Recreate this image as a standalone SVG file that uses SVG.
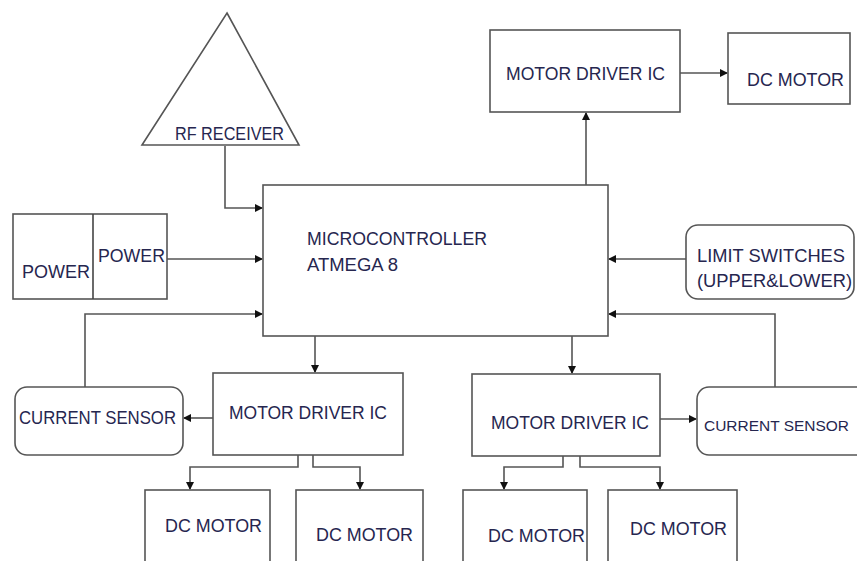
<svg xmlns="http://www.w3.org/2000/svg" width="857" height="561" viewBox="0 0 857 561">
<style>
.box{fill:#fff;stroke:#555;stroke-width:1.6}
.t{font-family:"Liberation Sans",Arial,sans-serif;font-size:17.5px;fill:#26264f}
.c{fill:none;stroke:#555;stroke-width:1.6}
</style>
<defs>
<marker id="ah" markerWidth="8" markerHeight="8" refX="7" refY="4" orient="auto" markerUnits="userSpaceOnUse">
<path d="M0,0 L8,4 L0,8 z" fill="#111"/>
</marker>
</defs>
<rect width="857" height="561" fill="#fff"/>
<g id="connectors">
<path class="c" d="M225,146 V208 H262" marker-end="url(#ah)"/>
<path class="c" d="M167,259 H262" marker-end="url(#ah)"/>
<path class="c" d="M85,387 V314 H262" marker-end="url(#ah)"/>
<path class="c" d="M686,259 H609" marker-end="url(#ah)"/>
<path class="c" d="M775,387 V314 H609" marker-end="url(#ah)"/>
<path class="c" d="M586,185 V113" marker-end="url(#ah)"/>
<path class="c" d="M680,73 H727" marker-end="url(#ah)"/>
<path class="c" d="M315,336 V372" marker-end="url(#ah)"/>
<path class="c" d="M572,336 V373" marker-end="url(#ah)"/>
<path class="c" d="M213,418 H184" marker-end="url(#ah)"/>
<path class="c" d="M660,419 H696" marker-end="url(#ah)"/>
<path class="c" d="M298,455 V467 H190 V489" marker-end="url(#ah)"/>
<path class="c" d="M313,455 V467 H360 V489" marker-end="url(#ah)"/>
<path class="c" d="M563,456 V467 H504 V489" marker-end="url(#ah)"/>
<path class="c" d="M580,456 V467 H660 V489" marker-end="url(#ah)"/>
</g>
<g id="rf-receiver">
<path class="box" d="M227,13 L299,145 L142,145 Z"/>
<text class="t" x="175" y="140" textLength="109" lengthAdjust="spacingAndGlyphs">RF RECEIVER</text>
</g>
<g id="power">
<rect class="box" x="13" y="214" width="154" height="85"/>
<line x1="93" y1="214" x2="93" y2="299" stroke="#444" stroke-width="1.6"/>
<text class="t" x="22" y="278" textLength="68" lengthAdjust="spacingAndGlyphs">POWER</text>
<text class="t" x="98" y="262" textLength="67" lengthAdjust="spacingAndGlyphs">POWER</text>
</g>
<g id="microcontroller">
<rect class="box" x="263" y="185" width="345" height="151"/>
<text class="t" x="307" y="245" textLength="180" lengthAdjust="spacingAndGlyphs">MICROCONTROLLER</text>
<text class="t" x="307" y="271" textLength="91" lengthAdjust="spacingAndGlyphs">ATMEGA 8</text>
</g>
<g id="motor-driver-top">
<rect class="box" x="490" y="30" width="190" height="82"/>
<text class="t" x="506" y="80" textLength="159" lengthAdjust="spacingAndGlyphs">MOTOR DRIVER IC</text>
</g>
<g id="dc-motor-top">
<rect class="box" x="728" y="33" width="122" height="71"/>
<text class="t" x="747" y="86" textLength="97" lengthAdjust="spacingAndGlyphs">DC MOTOR</text>
</g>
<g id="limit-switches">
<rect class="box" x="686" y="225" width="168" height="74" rx="12"/>
<text class="t" x="697" y="262" textLength="148" lengthAdjust="spacingAndGlyphs">LIMIT SWITCHES</text>
<text class="t" x="697" y="287" textLength="155" lengthAdjust="spacingAndGlyphs">(UPPER&amp;LOWER)</text>
</g>
<g id="current-sensor-left">
<rect class="box" x="15" y="387" width="168" height="68" rx="12"/>
<text class="t" x="19" y="424" textLength="157" lengthAdjust="spacingAndGlyphs">CURRENT SENSOR</text>
</g>
<g id="motor-driver-left">
<rect class="box" x="213" y="373" width="190" height="82"/>
<text class="t" x="229" y="419" textLength="158" lengthAdjust="spacingAndGlyphs">MOTOR DRIVER IC</text>
</g>
<g id="motor-driver-right">
<rect class="box" x="472" y="374" width="188" height="82"/>
<text class="t" x="491" y="429" textLength="158" lengthAdjust="spacingAndGlyphs">MOTOR DRIVER IC</text>
</g>
<g id="current-sensor-right">
<rect class="box" x="697" y="387" width="175" height="68" rx="12"/>
<text class="t" x="704" y="431" style="font-size:15.5px" textLength="145" lengthAdjust="spacingAndGlyphs">CURRENT SENSOR</text>
</g>
<g id="dc-motor-1">
<rect class="box" x="145" y="490" width="125" height="80"/>
<text class="t" x="165" y="532" textLength="97" lengthAdjust="spacingAndGlyphs">DC MOTOR</text>
</g>
<g id="dc-motor-2">
<rect class="box" x="296" y="490" width="127" height="80"/>
<text class="t" x="316" y="541" textLength="97" lengthAdjust="spacingAndGlyphs">DC MOTOR</text>
</g>
<g id="dc-motor-3">
<rect class="box" x="463" y="490" width="124" height="80"/>
<text class="t" x="488" y="542" textLength="97" lengthAdjust="spacingAndGlyphs">DC MOTOR</text>
</g>
<g id="dc-motor-4">
<rect class="box" x="608" y="490" width="129" height="80"/>
<text class="t" x="630" y="535" textLength="97" lengthAdjust="spacingAndGlyphs">DC MOTOR</text>
</g>
</svg>
